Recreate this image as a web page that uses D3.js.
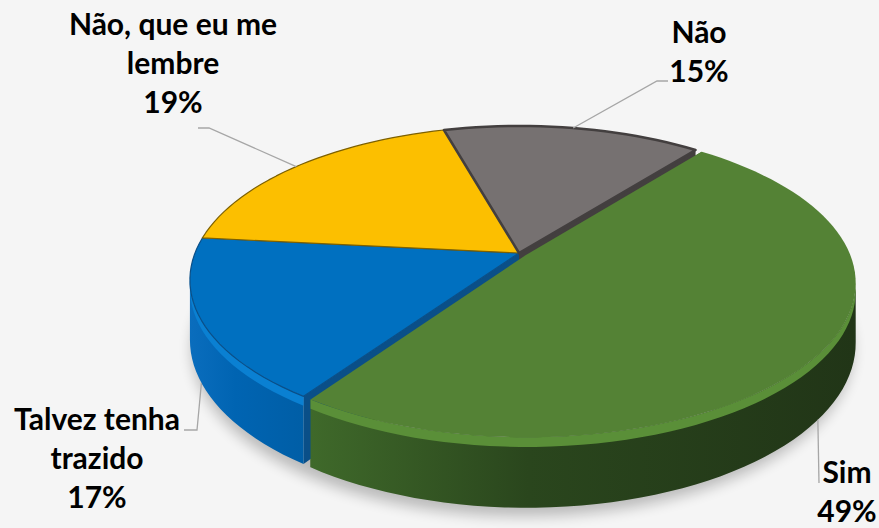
<!DOCTYPE html>
<html>
<head>
<meta charset="utf-8">
<script src="https://cdn.jsdelivr.net/npm/d3@7"></script>
<style>
html, body { margin: 0; padding: 0; background: #f5f5f5; }
svg { display: block; }
.lbl { font-family: Lato, "Open Sans", sans-serif; font-weight: 700; font-size: 30px; fill: #000; }
</style>
</head>
<body>
<div id="chart"></div>
<script>
// data
var categories = ["Sim", "Talvez tenha trazido", "Não, que eu me lembre", "Não"];
var values = [49, 17, 19, 15];
var labelLines = [["Sim"], ["Talvez tenha", "trazido"], ["Não, que eu me", "lembre"], ["Não"]];

// look
var topColors  = ["#548235", "#0070c0", "#fcbf00", "#767171"];
var bevelColors = ["#5a8f38", "#0a80d2", "#ffcb2a", "#858080"];
var wallColors = [["#3f692a", "#2a461d", "#213517"], ["#0a6dbd", "#0064b2", "#005ea6"], ["#d9a300", "#c99700", "#b88a00"], ["#5e5a5a", "#575353", "#4f4b4b"]];
var cutColors  = ["#3a5e25", "#0a4f88", "#7d6000", "#433f3f"];
var explode = [0.025, 0, 0, 0];

// label layout: baseline centre of first line, leader start point
var labelPos = [[847, 483], [97, 430], [173, 35], [699, 43]];
var leaderStart = [[[819, 483]], [[184, 430], [197, 430]], [[198, 128], [209, 128]], [[668, 81], [657, 81]]];
var lineGap = 39;

var width = 879, height = 528;
var cx = 519, cy = 253, sx = 324, sy = 149.3, k = 0.175, depth = 58, bevel = 8;

var svg = d3.select("#chart").append("svg")
    .attr("width", width)
    .attr("height", height);

var defs = svg.append("defs");
defs.append("filter").attr("id", "blur")
    .attr("x", "-20%").attr("y", "-20%").attr("width", "140%").attr("height", "140%")
    .append("feGaussianBlur").attr("stdDeviation", 7);

wallColors.forEach(function(c, i) {
    var g = defs.append("linearGradient").attr("id", "wall" + i)
        .attr("x1", 0).attr("x2", 1).attr("y1", 0).attr("y2", 0);
    g.append("stop").attr("offset", "0%").attr("stop-color", c[0]);
    g.append("stop").attr("offset", "40%").attr("stop-color", c[1]);
    g.append("stop").attr("offset", "100%").attr("stop-color", c[2]);
});

// perspective projection of the unit disk
function proj(u, v, drop) {
    var w = 1 - k * v;
    return [cx + sx * u / w, cy + sy * v / w + drop / w];
}

var start = 38.3 * Math.PI / 180;
var pie = d3.pie().sort(null).startAngle(start).endAngle(start + 2 * Math.PI);
var arcs = pie(values);
var total = d3.sum(values);

var line = d3.line();
var N = 80;

arcs.forEach(function(a, i) {
    var mid = (a.startAngle + a.endAngle) / 2;
    a.du = explode[i] * Math.sin(mid);
    a.dv = -explode[i] * Math.cos(mid);
    a.mid = mid;
});

function rim(a, t, drop) {
    return proj(a.du + Math.sin(t), a.dv - Math.cos(t), drop);
}
function rimPoints(a, t0, t1, drop) {
    var pts = [];
    var n = Math.max(2, Math.ceil(N * (t1 - t0) / Math.PI));
    for (var j = 0; j <= n; j++) pts.push(rim(a, t0 + (t1 - t0) * j / n, drop));
    return pts;
}

// shadow
var shadowPts = rimPoints({du: 0.01, dv: 0.02}, 0, 2 * Math.PI, depth + 6);
svg.append("path")
    .attr("d", line(shadowPts) + "Z")
    .attr("fill", "#000")
    .attr("opacity", 0.24)
    .attr("filter", "url(#blur)");

var gSides = svg.append("g");
var gTops = svg.append("g");

// cut faces, only where a neighbour is pulled out
var n = arcs.length;
arcs.forEach(function(a, i) {
    var prev = (i + n - 1) % n, next = (i + 1) % n;
    var faces = [];
    if (explode[i] || explode[prev]) faces.push(a.startAngle);
    if (explode[i] || explode[next]) faces.push(a.endAngle);
    faces.forEach(function(t) {
        var c0 = proj(a.du, a.dv, 0), c1 = proj(a.du, a.dv, depth);
        var r0 = rim(a, t, 0), r1 = rim(a, t, depth);
        gSides.append("path")
            .attr("d", line([c0, r0, r1, c1]) + "Z")
            .attr("fill", cutColors[i]);
    });
});

// outer walls, only the front part is seen
var lo = Math.acos(-k), hi = 2 * Math.PI - Math.acos(-k);
arcs.forEach(function(a, i) {
    var t0 = Math.max(a.startAngle, lo), t1 = Math.min(a.endAngle, hi);
    if (t1 <= t0) return;
    var topPts = rimPoints(a, t0, t1, 0);
    var botPts = rimPoints(a, t0, t1, depth).reverse();
    gSides.append("path")
        .attr("d", line(topPts.concat(botPts)) + "Z")
        .attr("fill", "url(#wall" + i + ")");
    var bevPts = rimPoints(a, t0, t1, bevel).reverse();
    gSides.append("path")
        .attr("d", line(topPts.concat(bevPts)) + "Z")
        .attr("fill", bevelColors[i]);
});

// tops
arcs.forEach(function(a, i) {
    var pts = [proj(a.du, a.dv, 0)].concat(rimPoints(a, a.startAngle, a.endAngle, 0));
    gTops.append("path")
        .attr("d", line(pts) + "Z")
        .attr("fill", topColors[i])
        .attr("stroke", explode[i] ? "none" : cutColors[i])
        .attr("stroke-width", i == 3 ? 2.5 : 1.2)
        .attr("stroke-linejoin", "round");
});

// leaders
var gLab = svg.append("g");
arcs.forEach(function(a, i) {
    var front = -Math.cos(a.mid) > 0;
    var end = rim(a, a.mid, front ? depth : 0);
    gLab.append("path")
        .attr("d", line(leaderStart[i].concat([end])))
        .attr("fill", "none")
        .attr("stroke", "#a6a6a6")
        .attr("stroke-width", 1.3);
});

// labels
arcs.forEach(function(a, i) {
    var lines = labelLines[i].concat([Math.round(values[i] / total * 100) + "%"]);
    var t = gLab.append("text")
        .attr("class", "lbl")
        .attr("text-anchor", "middle")
        .attr("x", labelPos[i][0])
        .attr("y", labelPos[i][1]);
    lines.forEach(function(s, j) {
        t.append("tspan")
            .attr("x", labelPos[i][0])
            .attr("dy", j == 0 ? 0 : lineGap)
            .text(s);
    });
});
</script>
</body>
</html>
